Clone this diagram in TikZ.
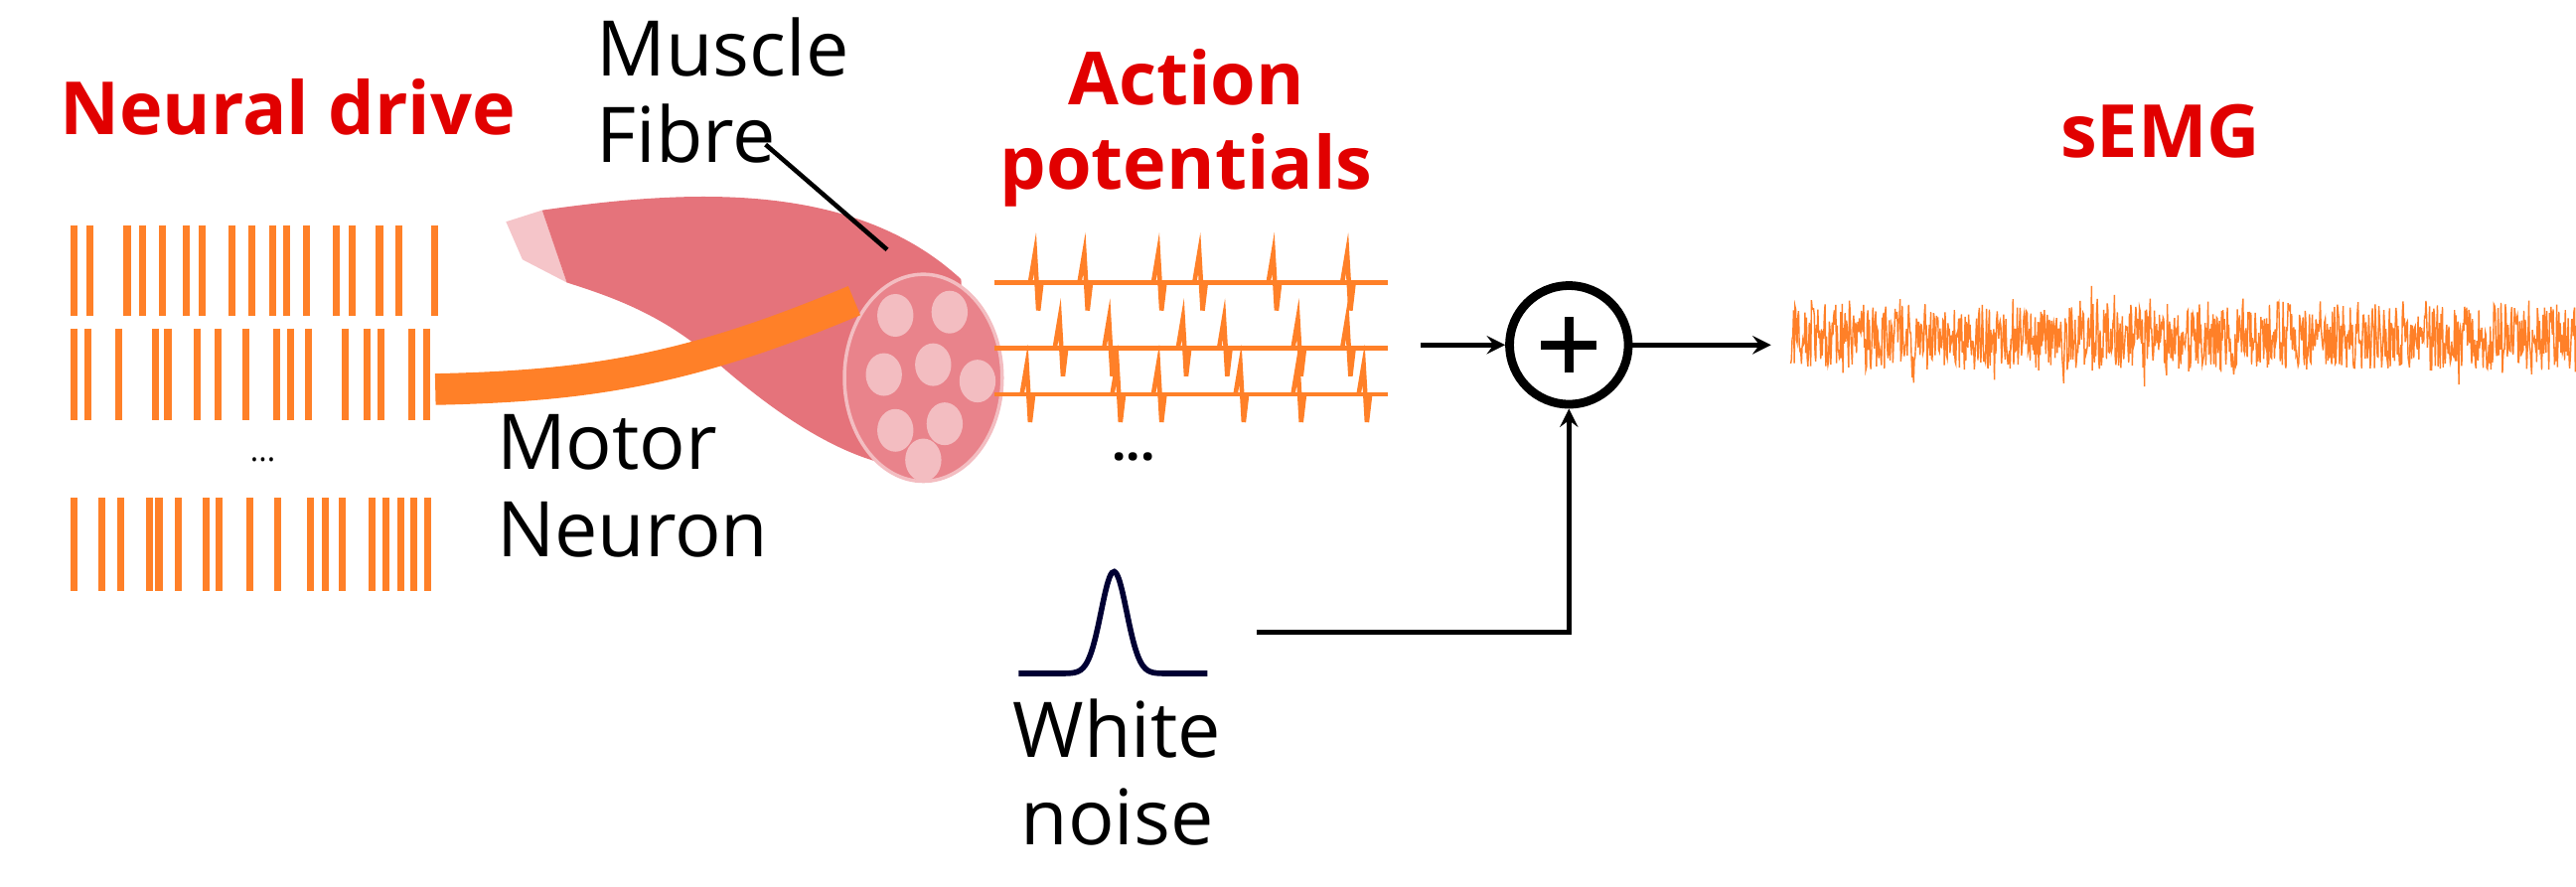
\documentclass[tikz,border=0pt]{standalone}
\usepackage{fontspec}
\setmainfont{Open Sans}
\usetikzlibrary{positioning}
\definecolor{spk}{RGB}{255,128,40}
\definecolor{lab}{RGB}{225,0,0}
\definecolor{musc}{RGB}{225,90,100}
\tikzset{
  title/.style={text=lab,font=\bfseries\fontsize{21}{24}\selectfont,align=center,inner sep=0pt},
  txt/.style={font=\fontsize{22}{25}\selectfont,align=left,inner sep=0pt},
  bar/.style={spk,line width=2pt},
  ap/.style={spk,line width=1.3pt},
  arr/.style={-stealth,line width=1.3pt}
}
\begin{document}
\begin{tikzpicture}[x={(0.01654cm,0)},y={(0,-0.01654cm)}]
  \useasboundingbox (0,0) rectangle (1568,540);
  % labels
  \node[title] (nd) at (175,65) {Neural drive};
  \node[title] (ap) at (722,78) {Action\\potentials};
  \node[title] (semg) at (1315,80) {sEMG};
  % spike trains
  \foreach \x in {0,8,27,35,45,57,65,80,90,101,108,118,133,141,155,165,183} \draw[bar] (45+1.2*\x,137) -- (45+1.2*\x,192);
  \foreach \x in {0,8,25,45,52,68,80,95,112,120,130,150,162,170,187,195} \draw[bar] (45+1.1*\x,200) -- (45+1.1*\x,256);
  \foreach \x in {0,15,25,40,45,55,70,77,93,108,125,133,142,158,165,173,180,187} \draw[bar] (45+1.15*\x,303) -- (45+1.15*\x,360);
  \node[font=\small] (dots1) at (160,280) {...};
  % muscle
  \fill[musc!35] (308,135) -- (330,128) -- (345,172) -- (318,158) -- cycle;
  \fill[musc!85] (330,128) .. controls (420,115) and (520,110) .. (585,170)
        -- (590,280) .. controls (540,300) and (480,260) .. (430,215)
        .. controls (400,190) and (370,180) .. (345,172) -- cycle;
  \fill[musc!75,draw=musc!40!white,line width=1pt] (562,230) ellipse (48 and 63);
  \foreach \cx/\cy in {545/192,578/190,538/228,568/222,595/232,545/262,575/258,562/280}
    \fill[musc!40!white] (\cx,\cy) ellipse (11 and 13);
  \draw[spk,line width=9pt] (265,237) .. controls (360,235) and (420,225) .. (520,183);
  \node[txt] (mf) at (440,55) {Muscle\\Fibre};
  \coordinate (fib) at (540,152);
  \draw[line width=1.3pt] (466,88) -- (fib);
  \node[txt] (mn) at (385,296) {Motor\\Neuron};
  % action potentials
  \foreach \y/\lst in {172/{630,660,705,730,775,820},212/{645,675,720,745,790,820},240/{625,680,705,755,790,830}}{
    \draw[ap] (605,\y) -- (845,\y);
    \foreach \s in \lst \draw[ap] (\s-3,\y) -- (\s,\y-18) -- (\s+2,\y+17) -- (\s+4,\y);
  }
  \node[font=\Large\bfseries] (dots2) at (690,278) {...};
  % sum
  \node[circle,draw,line width=2.5pt,minimum size=34pt,inner sep=0pt] (sum) at (955,210) {};
  \draw[line width=2.6pt] ([xshift=-8pt]sum.center) -- ([xshift=8pt]sum.center)
        ([yshift=-8pt]sum.center) -- ([yshift=8pt]sum.center);
  \coordinate (apend) at (865,210);
  \draw[arr] (apend) -- (sum);
  \coordinate (sig) at (1078,210);
  \draw[arr] (sum) -- (sig);
  % emg
  \pgfmathsetseed{7}
  \draw[spk,line width=0.4pt] plot[domain=1090:1568,samples=1100] (\x,{205+20*rand+45*rand*rand*rand*rand*rand});
  % noise
  \draw[black!80!blue,line width=1.6pt] plot[domain=620:735,samples=80,smooth] (\x,{410-62*exp(-((\x-678)/11)^2)});
  \node[txt,align=center] (wn) at (680,470) {White\\noise};
  \coordinate (nz) at (765,385);
  \draw[arr] (nz) -| (sum.south);
\end{tikzpicture}
\end{document}
